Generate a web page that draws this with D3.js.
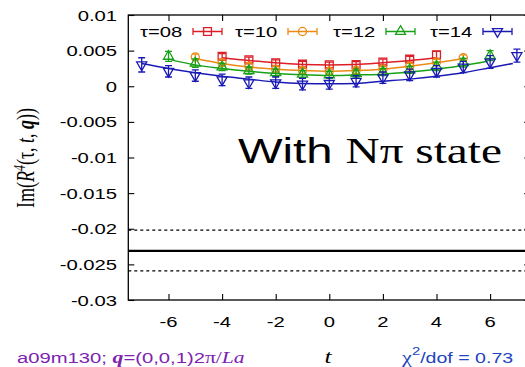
<!DOCTYPE html>
<html>
<head>
<meta charset="utf-8">
<script src="https://cdn.jsdelivr.net/npm/d3@7"></script>
<style>
  body { margin: 0; background: #fff; }
  svg { display: block; }
</style>
</head>
<body>
<div id="chart"></div>
<script>
// ========================================
// ===== Data =============================
// ========================================
var xTicks = [-6, -4, -2, 0, 2, 4, 6];
var yTicks = [0.01, 0.005, 0, -0.005, -0.01, -0.015, -0.02, -0.025, -0.03];
var yTickLabels = ["0.01", "0.005", "0", "-0.005", "-0.01", "-0.015", "-0.02", "-0.025", "-0.03"];

var seriesNames = ["τ=08", "τ=10", "τ=12", "τ=14"];

// tau = 08
var t08 = [-4, -3, -2, -1, 0, 1, 2, 3, 4];
var v08 = [0.0042, 0.0037, 0.0033, 0.0031, 0.0030, 0.00305, 0.0034, 0.0038, 0.0044];
var e08 = [0.0004, 0.0004, 0.0004, 0.0004, 0.0004, 0.0004, 0.0004, 0.0004, 0.0005];
var fitT08 = [-4, -3, -2, -1, 0, 1, 2, 3, 4];
var fit08 = [0.0040, 0.0036, 0.0033, 0.00305, 0.0030, 0.00305, 0.0033, 0.0036, 0.0040];

// tau = 10
var t10 = [-5, -4, -3, -2, -1, 0, 1, 2, 3, 4, 5];
var v10 = [0.0041, 0.0033, 0.0028, 0.0024, 0.0022, 0.0021, 0.0022, 0.0024, 0.0028, 0.0034, 0.0040];
var e10 = [0.0004, 0.0004, 0.0004, 0.0004, 0.0004, 0.0004, 0.0004, 0.0004, 0.0004, 0.0004, 0.0004];
var fitT10 = [-5, -4, -3, -2, -1, 0, 1, 2, 3, 4, 5];
var fit10 = [0.0039, 0.0032, 0.0027, 0.0024, 0.0022, 0.0021, 0.0022, 0.0024, 0.0028, 0.0033, 0.0039];

// tau = 12
var t12 = [-6, -5, -4, -3, -2, -1, 0, 1, 2, 3, 4, 5, 6];
var v12 = [0.0042, 0.00325, 0.0027, 0.0022, 0.0019, 0.0017, 0.0016, 0.0018, 0.0020, 0.0023, 0.0028, 0.0033, 0.0043];
var e12 = [0.0007, 0.0006, 0.0005, 0.0005, 0.0005, 0.0005, 0.0005, 0.0005, 0.0005, 0.0005, 0.0006, 0.0006, 0.0007];
var fitT12 = [-5.9, -5, -4, -3, -2, -1, 0, 1, 2, 3, 4, 5, 5.9];
var fit12 = [0.0037, 0.0030, 0.0025, 0.0021, 0.0018, 0.0016, 0.0015, 0.0016, 0.0017, 0.0020, 0.0024, 0.0029, 0.0035];

// tau = 14
var t14 = [-7, -6, -5, -4, -3, -2, -1, 0, 1, 2, 3, 4, 5, 6, 7];
var v14 = [0.0030, 0.0021, 0.0015, 0.0009, 0.0005, 0.0005, 0.0003, 0.0004, 0.0007, 0.0012, 0.0016, 0.0021, 0.0027, 0.0034, 0.0043];
var e14 = [0.0010, 0.0008, 0.0008, 0.0008, 0.0008, 0.0008, 0.0008, 0.0008, 0.0008, 0.0008, 0.0008, 0.0008, 0.0008, 0.0009, 0.0009];
var fitT14 = [-7, -6, -5, -4, -3, -2, -1, 0, 1, 2, 3, 4, 5, 6, 6.85];
var fit14 = [0.0032, 0.0025, 0.0019, 0.0014, 0.0010, 0.0006, 0.0004, 0.00035, 0.0004, 0.0007, 0.0010, 0.0014, 0.0019, 0.0026, 0.0032];

// Band: central value and error
var bandCenter = -0.0231;
var bandLow = -0.0259;
var bandHigh = -0.0202;

// ========================================
// ===== Styles ===========================
// ========================================
var colors = ["#dc1e26", "#ec8a14", "#18a018", "#1a1ab4"];
var symbols = ["square", "circle", "triUp", "triDown"];
var SX = 1.35;   // the source picture is stretched sideways
var sans = "'Liberation Sans', Arial, Helvetica, sans-serif";
var serif = "'Liberation Serif', 'Times New Roman', Times, serif";

var width = 525, height = 367;
var plotLeft = 128.3, plotRight = 530.3, plotTop = 15, plotBottom = 300;

var x = d3.scaleLinear().domain([-7.5, 7.5]).range([plotLeft, plotRight]);
var y = d3.scaleLinear().domain([-0.03, 0.01]).range([plotBottom, plotTop]);

var svg = d3.select("#chart").append("svg")
    .attr("width", width)
    .attr("height", height);

// stretched text helper
function addText(parent, px, py, anchor) {
    return parent.append("text")
        .attr("transform", "translate(" + px + "," + py + ") scale(" + SX + ",1)")
        .attr("text-anchor", anchor)
        .attr("fill", "#000");
}

// Draw marker shapes by name
function symbolPath(name) {
    if (name == "square") return d3.symbol().type(d3.symbolSquare).size(62)();
    if (name == "circle") return d3.symbol().type(d3.symbolCircle).size(52)();
    return d3.symbol().type(d3.symbolTriangle).size(44)();
}
function addMarker(parent, name, cx, cy, color) {
    var rot = name == "triDown" ? " rotate(180)" : "";
    parent.append("path")
        .attr("d", symbolPath(name))
        .attr("transform", "translate(" + cx + "," + cy + ")" + rot)
        .attr("fill", "none")
        .attr("stroke", color)
        .attr("stroke-width", 1.3);
}

// ===== Band lines =====
var clip = svg.append("clipPath").attr("id", "plotclip")
    .append("rect")
    .attr("x", plotLeft).attr("y", plotTop)
    .attr("width", plotRight - plotLeft).attr("height", plotBottom - plotTop);

var plot = svg.append("g").attr("clip-path", "url(#plotclip)");

[bandLow, bandHigh].forEach(function(v) {
    plot.append("line")
        .attr("x1", plotLeft).attr("x2", plotRight)
        .attr("y1", y(v)).attr("y2", y(v))
        .attr("stroke", "#000")
        .attr("stroke-width", 1.2)
        .attr("stroke-dasharray", "3,3");
});
plot.append("line")
    .attr("x1", plotLeft).attr("x2", plotRight)
    .attr("y1", y(bandCenter)).attr("y2", y(bandCenter))
    .attr("stroke", "#000")
    .attr("stroke-width", 2.2);

// ===== Series =====
var allSeries = [
    {t: t08, v: v08, e: e08, ft: fitT08, f: fit08},
    {t: t10, v: v10, e: e10, ft: fitT10, f: fit10},
    {t: t12, v: v12, e: e12, ft: fitT12, f: fit12},
    {t: t14, v: v14, e: e14, ft: fitT14, f: fit14}
];

var fitLine = d3.line()
    .x(function(d) { return x(d[0]); })
    .y(function(d) { return y(d[1]); })
    .curve(d3.curveMonotoneX);

allSeries.forEach(function(s, k) {
    var col = colors[k];
    var g = plot.append("g");
    // fit curve
    g.append("path")
        .datum(d3.zip(s.ft, s.f))
        .attr("d", fitLine)
        .attr("fill", "none")
        .attr("stroke", col)
        .attr("stroke-width", 1.5);
    // error bars and markers
    s.t.forEach(function(tv, i) {
        var cx = x(tv);
        var yHi = y(s.v[i] + s.e[i]), yLo = y(s.v[i] - s.e[i]);
        g.append("line")
            .attr("x1", cx).attr("x2", cx).attr("y1", yHi).attr("y2", yLo)
            .attr("stroke", col).attr("stroke-width", 1.3);
        [yHi, yLo].forEach(function(cy) {
            g.append("line")
                .attr("x1", cx - 3.5).attr("x2", cx + 3.5).attr("y1", cy).attr("y2", cy)
                .attr("stroke", col).attr("stroke-width", 1.3);
        });
        addMarker(g, symbols[k], cx, y(s.v[i]), col);
    });
});

// ===== Axes (ticks only, labels drawn stretched) =====
svg.append("g")
    .attr("transform", "translate(" + plotLeft + ",0)")
    .call(d3.axisLeft(y).tickValues(yTicks).tickSize(-6).tickFormat(""))
    .call(function(g) { g.select(".domain").remove(); });
svg.append("g")
    .attr("transform", "translate(" + plotRight + ",0)")
    .call(d3.axisRight(y).tickValues(yTicks).tickSize(-6).tickFormat(""))
    .call(function(g) { g.select(".domain").remove(); });
svg.append("g")
    .attr("transform", "translate(0," + plotBottom + ")")
    .call(d3.axisBottom(x).tickValues(xTicks).tickSize(-6).tickFormat(""))
    .call(function(g) { g.select(".domain").remove(); });
svg.append("g")
    .attr("transform", "translate(0," + plotTop + ")")
    .call(d3.axisTop(x).tickValues(xTicks).tickSize(-6).tickFormat(""))
    .call(function(g) { g.select(".domain").remove(); });
svg.selectAll(".tick line").attr("stroke", "#000").attr("stroke-width", 1.1);

// Border
svg.append("rect")
    .attr("x", plotLeft).attr("y", plotTop)
    .attr("width", plotRight - plotLeft).attr("height", plotBottom - plotTop)
    .attr("fill", "none")
    .attr("stroke", "#000")
    .attr("stroke-width", 1.3);

// Tick labels
yTicks.forEach(function(v, i) {
    addText(svg, 117, y(v) + 5.5, "end")
        .attr("font-family", sans).attr("font-size", "15px")
        .text(yTickLabels[i]);
});
xTicks.forEach(function(v) {
    addText(svg, x(v), 327, "middle")
        .attr("font-family", sans).attr("font-size", "15px")
        .text(v);
});

// ===== Legend =====
var legendX = [140, 235, 333, 430];
seriesNames.forEach(function(name, k) {
    var col = colors[k];
    addText(svg, legendX[k], 37, "start")
        .attr("font-family", sans).attr("font-size", "15px")
        .text(name);
    var x0 = legendX[k] + 53, x1 = legendX[k] + 82, ly = 31.5;
    svg.append("line").attr("x1", x0).attr("x2", x1).attr("y1", ly).attr("y2", ly)
        .attr("stroke", col).attr("stroke-width", 1.5);
    [x0, x1].forEach(function(cx) {
        svg.append("line").attr("x1", cx).attr("x2", cx).attr("y1", ly - 3.5).attr("y2", ly + 3.5)
            .attr("stroke", col).attr("stroke-width", 1.3);
    });
    addMarker(svg, symbols[k], (x0 + x1) / 2, ly, col);
});

// ===== Annotation =====
var note = addText(svg, 238, 163, "start").attr("font-size", "35px");
note.append("tspan").attr("font-family", sans).text("With ");
note.append("tspan").attr("font-family", serif).text("Nπ state");

// ===== Axis titles =====
var ylab = svg.append("text")
    .attr("transform", "translate(34,158) scale(" + SX + ",1) rotate(-90)")
    .attr("text-anchor", "middle")
    .attr("font-family", serif)
    .attr("font-size", "18px")
    .attr("fill", "#000");
ylab.append("tspan").text("Im(");
ylab.append("tspan").attr("font-style", "italic").text("R");
ylab.append("tspan").attr("font-style", "italic").attr("font-size", "12px").attr("dy", -7).text("4");
ylab.append("tspan").attr("dy", 7).text("(τ, ");
ylab.append("tspan").attr("font-style", "italic").text("t");
ylab.append("tspan").text(", ");
ylab.append("tspan").attr("font-style", "italic").attr("font-weight", "bold").text("q");
ylab.append("tspan").text("))");

addText(svg, 328, 363, "middle")
    .attr("font-family", serif).attr("font-style", "italic").attr("font-size", "19px")
    .text("t");

// ensemble label, bottom left
var ens = addText(svg, 17, 363, "start").attr("fill", "#7d22b0").attr("font-size", "15px");
ens.append("tspan").attr("font-family", sans).text("a09m130; ");
ens.append("tspan").attr("font-family", serif).attr("font-weight", "bold").attr("font-style", "italic").attr("font-size", "16px").text("q");
ens.append("tspan").attr("font-family", sans).text("=(0,0,1)2");
ens.append("tspan").attr("font-family", serif).attr("font-size", "16px").text("π/");
ens.append("tspan").attr("font-family", serif).attr("font-style", "italic").attr("font-size", "16px").text("La");

// chi^2 label, bottom right
var chi = addText(svg, 402, 363, "start").attr("fill", "#2244c0").attr("font-size", "14.5px");
chi.append("tspan").attr("font-family", serif).attr("font-size", "16.5px").text("χ");
chi.append("tspan").attr("font-family", sans).attr("font-size", "11px").attr("dy", -8).text("2");
chi.append("tspan").attr("font-family", sans).attr("dy", 8).text("/dof = 0.73");
</script>
</body>
</html>
